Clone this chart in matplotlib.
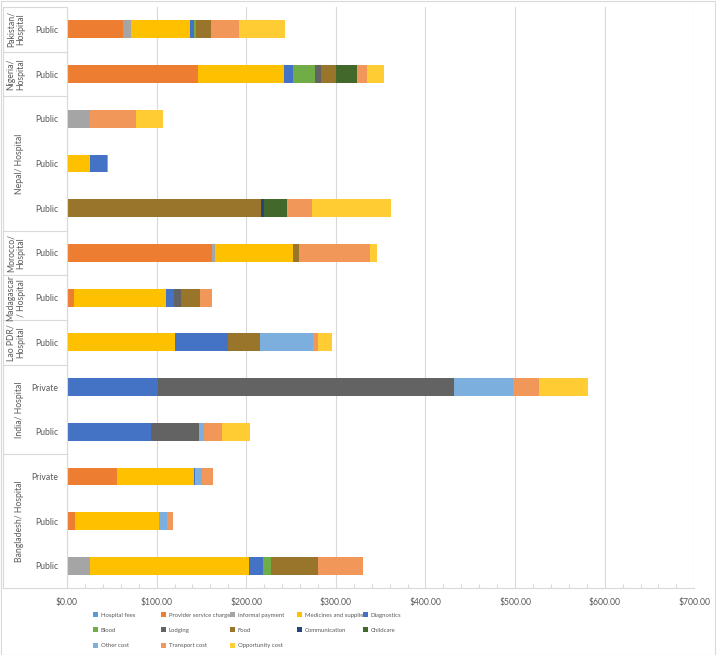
import matplotlib
matplotlib.use("Agg")
import matplotlib.pyplot as plt
import numpy as np
from matplotlib.transforms import blended_transform_factory
from matplotlib.patches import Rectangle, Patch
from matplotlib.lines import Line2D
from matplotlib.ticker import MultipleLocator, FuncFormatter
from matplotlib import font_manager

plt.rcParams['font.family'] = ['Lato', 'DejaVu Sans']

# Rows, top to bottom
sub_labels = ["Public", "Public", "Public", "Public", "Public", "Public", "Public",
              "Public", "Private", "Public", "Private", "Public", "Public"]
groups = ["Pakistan/\nHospital", "Nigeria/\nHospital", "Nepal/ Hospital",
          "Morocco/\nHospital", "Madagascar\n/ Hospital", "Lao PDR/\nHospital",
          "India/ Hospital", "Bangladesh/ Hospital"]
group_sizes = [1, 1, 3, 1, 1, 1, 2, 3]

series_names = ["Hospital fees", "Provider service charge", "informal payment",
                "Medicines and supplies", "Diagnostics", "Blood", "Lodging", "Food",
                "Communication", "Childcare", "Other cost", "Transport cost",
                "Opportunity cost"]

hospital_fees = [0, 0, 0, 0.8, 0, 0, 0, 0, 0, 0, 0, 0, 0]
provider      = [62.6, 146.5, 0, 0, 0, 161.8, 7.8, 0, 0, 0, 56, 9.3, 0]
informal      = [8.6, 0, 25.7, 0, 0, 3.7, 0, 0, 0, 0, 0, 0, 25.4]
medicines     = [65.9, 95.9, 0, 24.9, 0, 86.2, 102.9, 120, 0, 0, 86.0, 93.9, 177.8]
diagnostics   = [4.5, 10, 0, 18.7, 0, 0, 8.6, 59.7, 101.8, 93.2, 0.6, 0, 15.3]
blood         = [2.3, 24.6, 0, 0, 0, 0, 0, 0, 0, 0, 0, 0, 9.7]
lodging       = [0, 6, 0, 0, 0, 0, 8.2, 0, 330, 53.7, 0, 0, 0]
food          = [17, 16.8, 0, 0, 216.6, 6.7, 20.9, 36.2, 0, 0, 0, 0, 51.4]
communication = [0, 0, 0, 0, 3.4, 0, 0, 0, 0, 0, 0, 0, 0]
childcare     = [0, 23.5, 0, 0, 26, 0, 0, 0, 0, 0, 0, 0, 0]
other_cost    = [0, 0, 0, 1.1, 0, 0, 0, 58.1, 66, 5.6, 8.6, 8.7, 0]
transport     = [31, 11.1, 51.5, 0, 26.9, 79.4, 13, 5.6, 29, 21, 12, 6.3, 50.4]
opportunity   = [51.8, 19.1, 29.4, 0, 88.4, 8.2, 0, 15.7, 54.5, 30.2, 0, 0, 0]

series_values = [hospital_fees, provider, informal, medicines, diagnostics, blood,
                 lodging, food, communication, childcare, other_cost, transport,
                 opportunity]
colors = ["#5B9BD5", "#ED7D31", "#A5A5A5", "#FFC000", "#4472C4", "#70AD47",
          "#636363", "#98752B", "#264478", "#43682B", "#7CAFDD", "#F1975A",
          "#FFCD33"]

W, H = 716, 655
fig = plt.figure(figsize=(W / 100, H / 100), dpi=100)
ax = fig.add_axes([67 / W, 1 - 588.3 / H, (694.3 - 67) / W, (588.3 - 7) / H])

y = np.arange(len(sub_labels))
left = np.zeros(len(sub_labels))
handles = []
for name, vals, c in zip(series_names, series_values, colors):
    v = np.array(vals, dtype=float)
    ax.barh(y, v, left=left, height=0.4, color=c, label=name, linewidth=0)
    left += v
    handles.append(Patch(facecolor=c, edgecolor='none', label=name))

ax.set_xlim(0, 700)
ax.set_ylim(len(sub_labels) - 0.5, -0.5)

txt_color = "#595959"
grid_color = "#D9D9D9"
fs = 6.2

ax.xaxis.set_major_locator(MultipleLocator(100))
ax.xaxis.set_minor_locator(MultipleLocator(20))
ax.xaxis.set_major_formatter(FuncFormatter(lambda v, p: f"${v:,.2f}"))
ax.grid(axis='x', which='major', color=grid_color, linewidth=0.8)
ax.set_axisbelow(True)
ax.tick_params(axis='x', which='major', length=0, pad=7, labelsize=fs, labelcolor=txt_color)
ax.tick_params(axis='x', which='minor', direction='in', length=3, color=grid_color, width=0.8)

ax.set_yticks(y)
ax.set_yticklabels(sub_labels)
ax.tick_params(axis='y', length=0, pad=6.5, labelsize=fs, labelcolor=txt_color)

for s in ['top', 'right']:
    ax.spines[s].set_visible(False)
for s in ['left', 'bottom']:
    ax.spines[s].set_color(grid_color)
    ax.spines[s].set_linewidth(0.8)

# multi-level category lines and group labels
tr = blended_transform_factory(fig.transFigure, ax.transData)
x0, x1 = 3 / W, 67 / W
bounds = [-0.5]
acc = -0.5
for n in group_sizes:
    acc += n
    bounds.append(acc)
for b in bounds:
    ax.add_line(Line2D([x0, x1], [b, b], transform=tr, color=grid_color,
                       linewidth=0.8, clip_on=False))
ax.add_line(Line2D([x0, x0], [bounds[0], bounds[-1]], transform=tr,
                   color=grid_color, linewidth=0.8, clip_on=False))
for gname, b0, b1 in zip(groups, bounds[:-1], bounds[1:]):
    xc = 16 / W if "\n" in gname else 20 / W
    ax.text(xc, (b0 + b1) / 2, gname, transform=tr, rotation=90, ha='center',
            va='center', multialignment='center', fontsize=fs, color=txt_color,
            linespacing=1.15)

leg_prop = font_manager.FontProperties(family='Lato', size=4.35)

# legend: 5 columns, row-major order
col_x = [93, 161, 230, 297, 363]
ncol = 5
for j in range(ncol):
    hs = [handles[k] for k in range(j, len(handles), ncol)]
    leg = fig.legend(handles=hs, loc='upper left',
                     bbox_to_anchor=(col_x[j] / W, 1 - 612 / H),
                     frameon=False, prop=leg_prop, borderpad=0, borderaxespad=0,
                     handlelength=0.9, handleheight=0.9, handletextpad=0.4,
                     labelspacing=1.6)
    for t in leg.get_texts():
        t.set_color(txt_color)

fig.add_artist(Rectangle((0.5 / W, 0.5 / H), 1 - 1.5 / W, 1 - 1.5 / H,
                         transform=fig.transFigure, fill=False,
                         edgecolor=grid_color, linewidth=0.8))

fig.savefig("out.png", dpi=100)
